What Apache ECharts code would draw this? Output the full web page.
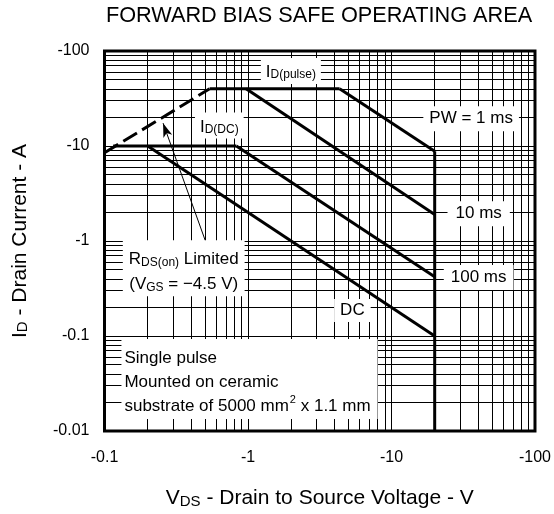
<!DOCTYPE html>
<html><head><meta charset="utf-8">
<script src="https://cdn.jsdelivr.net/npm/echarts@6/dist/echarts.min.js"></script>
<style>html,body{margin:0;padding:0;background:#fff}#c{width:554px;height:514px}</style>
</head><body><div id="c"></div>
<script>
// ---- data (magnitudes: |VDS| in V, |ID| in A) ----
const xTickLabels = ['-0.1', '-1', '-10', '-100'];
const yTickLabels = ['-0.01', '-0.1', '-1', '-10', '-100'];
const rdsLimit = [[0.1, 8.5], [0.54, 40]];
const idPulse = [[0.54, 40], [4.35, 40]];
const pw1ms = [[4.35, 40], [20, 8.8]];
const pw10ms = [[0.97, 40], [20, 1.9]];
const idDC = [[0.115, 10], [0.83, 10]];
const pw100ms = [[0.83, 10], [20, 0.42]];
const dcCurve = [[0.2, 10], [20, 0.1]];
const vdsMax = [[20, 8.8], [20, 0.01]];
const gridMultipliers = [1, 2, 3, 4, 5, 6, 7, 8, 9];
const xDecades = [0.1, 1, 10];
const yDecades = [0.01, 0.1, 1, 10];

const FONT = '"Liberation Sans", Arial, Helvetica, sans-serif';
const chart = echarts.init(document.getElementById('c'));

const vLines = [], hLines = [];
xDecades.forEach(d => gridMultipliers.forEach(m => { if (m > 1 || d > 0.1) vLines.push({ xAxis: m * d }); }));
yDecades.forEach(d => gridMultipliers.forEach(m => { if (m > 1 || d > 0.01) hLines.push({ yAxis: m * d }); }));

const sub = { fontSize: 12, fontFamily: FONT, color: '#000', verticalAlign: 'bottom', lineHeight: 20 };
const big = { fontSize: 17, fontFamily: FONT, color: '#000', verticalAlign: 'bottom', lineHeight: 20 };

function curve(data, extra) {
  return Object.assign({
    type: 'line', data: data, showSymbol: false, symbol: 'none', silent: true, z: 4,
    lineStyle: { color: '#000', width: 3, cap: 'butt' }
  }, extra || {});
}

function note(value, text, opts) {
  return {
    value: value,
    label: Object.assign({
      show: true, position: 'inside', formatter: text,
      fontSize: 17, fontFamily: FONT, color: '#000',
      backgroundColor: '#fff', padding: [3, 5],
      rich: { i: big, s: sub }
    }, opts || {})
  };
}

const nameRich = {
  i: { fontSize: 21, fontFamily: FONT, color: '#000', verticalAlign: 'bottom', lineHeight: 26 },
  s: { fontSize: 15, fontFamily: FONT, color: '#000', verticalAlign: 'bottom', lineHeight: 26 }
};

chart.setOption({
  animation: false,
  backgroundColor: '#fff',
  graphic: [{
    type: 'text', x: 319, y: 5,
    style: { text: 'FORWARD BIAS SAFE OPERATING AREA', font: '21.7px ' + FONT, fill: '#000', align: 'center', verticalAlign: 'top' }
  }],
  grid: { left: 104.5, right: 17.5, top: 51, bottom: 73, show: true, borderColor: '#000', borderWidth: 3, backgroundColor: 'transparent', z: 10 },
  xAxis: {
    type: 'log', logBase: 10, min: 0.1, max: 100,
    axisLine: { show: false }, axisTick: { show: false }, splitLine: { show: false },
    axisLabel: { color: '#000', fontSize: 16, fontFamily: FONT, margin: 19,
      formatter: v => xTickLabels[Math.round(Math.log10(v)) + 1] },
    name: '{i|V}{s|DS}{i| - Drain to Source Voltage - V}',
    nameLocation: 'middle', nameGap: 52,
    nameTextStyle: { rich: nameRich }
  },
  yAxis: {
    type: 'log', logBase: 10, min: 0.01, max: 100,
    axisLine: { show: false }, axisTick: { show: false }, splitLine: { show: false },
    axisLabel: { color: '#000', fontSize: 16, fontFamily: FONT, margin: 15,
      formatter: v => yTickLabels[Math.round(Math.log10(v)) + 2] },
    name: '{i|I}{s|D}{i| - Drain Current - A}',
    nameLocation: 'middle', nameGap: 74, nameRotate: 90,
    nameTextStyle: { rich: nameRich }
  },
  series: [
    curve(rdsLimit, {
      lineStyle: { color: '#000', width: 3, type: [16, 6], cap: 'butt' },
      markLine: {
        silent: true, symbol: ['none', 'none'], label: { show: false }, z: 1,
        lineStyle: { color: '#000', width: 1, type: 'solid' },
        data: vLines.concat(hLines)
      }
    }),
    curve(idPulse),
    curve(pw1ms),
    curve(pw10ms),
    curve(idDC),
    curve(pw100ms),
    curve(dcCurve),
    curve(vdsMax, {
      markLine: {
        silent: true, symbol: ['none', 'arrow'], symbolSize: [7, 14], label: { show: false },
        lineStyle: { color: '#000', width: 1, type: 'solid' },
        data: [[{ coord: [0.511, 0.953] }, { coord: [0.256, 17.4] }]]
      }
    }),
    {
      type: 'scatter', symbol: 'rect', symbolSize: 1, silent: true, z: 8,
      itemStyle: { color: 'rgba(255,255,255,0)', opacity: 1 },
      labelLayout: { hideOverlap: false },
      data: [
        note([1.99, 61.6], '{i|I}{s|D(pulse)}', { padding: [3, 5, 3, 5] }),
        note([0.631, 16.4], '{i|I}{s|D(DC)}', { padding: [3, 5, 3, 5] }),
        note([35.9, 19.4], 'PW = 1 ms', { padding: [4, 6] }),
        note([40.5, 1.94], '10 ms', { padding: [4, 8] }),
        note([40.5, 0.414], '100 ms', { padding: [4, 7] }),
        note([5.34, 0.186], 'DC', { padding: [3, 6] }),
        note([0.3565, 0.516], '{i|R}{s|DS(on)}{i| Limited}\n{i|(V}{s|GS}{i| = \u22124.5 V)}', {
          padding: [3, 6], rich: { i: Object.assign({}, big, { lineHeight: 25 }), s: Object.assign({}, sub, { lineHeight: 25 }) }
        }),
        note([0.1323, 0.092], '{t|Single pulse}\n{t|Mounted on ceramic}\n{t|substrate of 5000 mm}{sup|2}{t| x 1.1 mm}', {
          position: [0, 0], align: 'left', verticalAlign: 'top', padding: [4, 7, 4, 3],
          rich: {
            t: { fontSize: 17, fontFamily: FONT, color: '#000', lineHeight: 24, verticalAlign: 'bottom' },
            sup: { fontSize: 11, fontFamily: FONT, color: '#000', lineHeight: 24, verticalAlign: 'top', padding: [4, 0, 0, 1] }
          }
        })
      ]
    }
  ]
});
</script>
</body></html>
